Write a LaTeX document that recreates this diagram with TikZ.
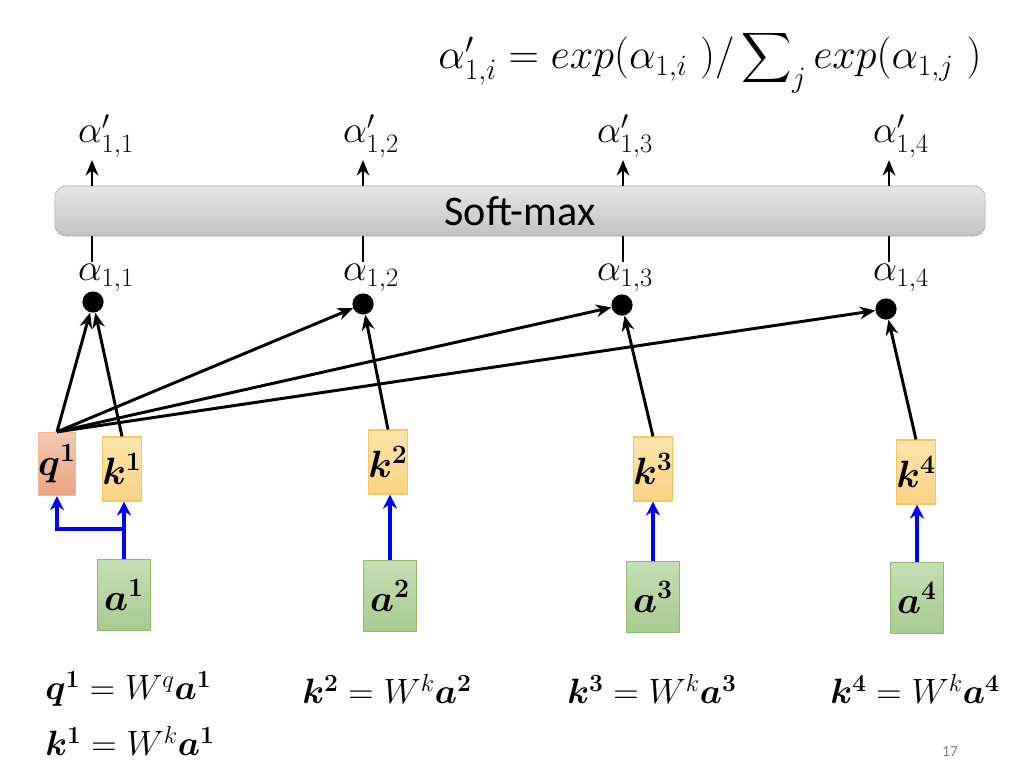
\RequirePackage{fix-cm}
\documentclass[tikz,border=0pt]{standalone}
\usepackage{amsmath,bm}
\usepackage{fontspec}
\newfontfamily\calibri{Carlito}
\usetikzlibrary{arrows.meta}
\definecolor{qline}{HTML}{F4B896}
\definecolor{qtop}{HTML}{F3C8B2}
\definecolor{qbot}{HTML}{E9A484}
\definecolor{kline}{HTML}{F8C660}
\definecolor{ktop}{HTML}{FCE5AC}
\definecolor{kbot}{HTML}{F9D384}
\definecolor{aline}{HTML}{8FBA6E}
\definecolor{atop}{HTML}{C6DEB6}
\definecolor{abot}{HTML}{A8CA90}
\definecolor{smline}{HTML}{A8A8A8}
\definecolor{smtop}{HTML}{E6E6E6}
\definecolor{smbot}{HTML}{C2C2C2}
\tikzset{
  vecbox/.style={draw, line width=0.8pt, inner sep=0pt, font=\fontsize{27}{30}\selectfont},
  qbox/.style={vecbox, draw=qline, top color=qtop, bottom color=qbot, minimum width=0.85cm, minimum height=1.58cm},
  keybox/.style={vecbox, draw=kline, top color=ktop, bottom color=kbot, minimum width=0.85cm, minimum height=1.6cm},
  inbox/.style={vecbox, draw=aline, top color=atop, bottom color=abot, minimum width=1.34cm, minimum height=1.78cm},
  scoredot/.style={circle, fill=black, minimum size=0.53cm, inner sep=0pt},
  score/.style={font=\fontsize{27}{30}\selectfont},
  eqn/.style={font=\fontsize{25}{30}\selectfont, anchor=west, inner sep=0pt},
  blk/.style={line width=2.1pt, -{Stealth[length=11pt,width=9pt]}},
  blu/.style={draw=blue, line width=2.3pt, -{Stealth[length=10pt,width=10pt]}},
}
\begin{document}
\begin{tikzpicture}[x=0.025cm, y=-0.025cm]
    \useasboundingbox (0,0) rectangle (1024,763);
    \node[font=\fontsize{30}{36}\selectfont] (f) at (710,62)
        {$\alpha'_{1,i} = exp(\alpha_{1,i}\ )/\displaystyle\sum\nolimits_j exp(\alpha_{1,j}\ )$};
    \node[rectangle, rounded corners=8pt, draw=smline, top color=smtop, bottom color=smbot,
        minimum width=23.25cm, minimum height=1.25cm,
        font=\calibri\fontsize{30}{36}\selectfont] (s) at (520,211) {Soft-max};
    \node[qbox] (q1) at (57,464) {$\bm{q^1}$};
    \node[keybox] (k1) at (122,469) {$\bm{k^1}$};
    \node[inbox] (a1) at (124,595) {$\bm{a^1}$};
    \node[scoredot] (d1) at (93,302) {};
    \foreach \i/\x/\yk/\xa/\ya/\xd/\yd in {2/388/462/390/596/363/304,
            3/653/469/653/597/622/305, 4/916/472/917/598/886/309}{
        \node[keybox] (k\i) at (\x,\yk) {$\bm{k^\i}$};
        \node[inbox] (a\i) at (\xa,\ya) {$\bm{a^\i}$};
        \node[scoredot] (d\i) at (\xd,\yd) {};
        \draw[blu] (a\i.north) -- (a\i.north |- k\i.south);
        \draw[blk] (k\i.north) -- (d\i);
    }
    \foreach \i/\x/\xl in {1/92/106,2/363/371,3/623/625,4/889/901}{
        \coordinate (b\i) at (\x,262);
        \coordinate (t\i) at (\x,160);
        \draw[line width=2.1pt] (s.south -| b\i) -- (b\i);
        \draw[blk] (s.north -| t\i) -- (t\i);
        \node[score] (w\i) at (\xl,278) {$\alpha_{1,\i}$};
        \node[score] (v\i) at (\xl,136) {$\alpha'_{1,\i}$};
        \draw[blk] (q1.north) -- (d\i);
    }
    \draw[blk] (k1.north) -- (d1);
    % a1 feeds both q1 and k1
    \coordinate (j1) at (124,529);
    \draw[blu] (a1.north) -- (a1.north |- k1.south);
    \draw[blu] (j1) -| (q1.south);
    \node[eqn] (e1) at (45,689) {$\bm{q^1} = W^q\bm{a^1}$};
    \node[eqn] (e2) at (45,741) {$\bm{k^1} = W^k\bm{a^1}$};
    \node[eqn] (e3) at (302,689) {$\bm{k^2} = W^k\bm{a^2}$};
    \node[eqn] (e4) at (567,689) {$\bm{k^3} = W^k\bm{a^3}$};
    \node[eqn] (e5) at (830,689) {$\bm{k^4} = W^k\bm{a^4}$};
    \node[font=\calibri\fontsize{11}{13}\selectfont, text=gray] (p) at (950,752) {17};
\end{tikzpicture}
\end{document}
